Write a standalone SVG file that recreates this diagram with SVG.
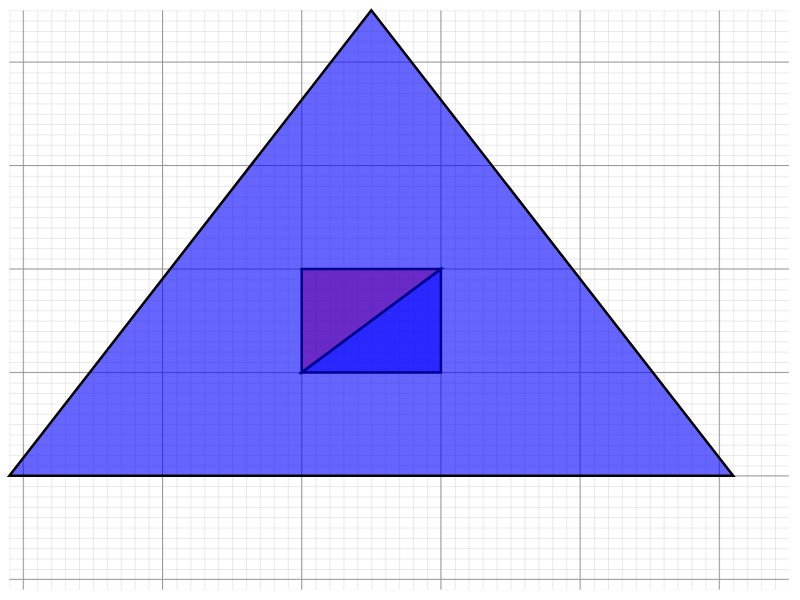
<svg xmlns="http://www.w3.org/2000/svg" width="800" height="600" viewBox="0 0 800 600">
<defs>
<pattern id="minor" x="23.3" y="10.3" width="13.92" height="10.345" patternUnits="userSpaceOnUse">
<path d="M0 0V10.345M0 0H13.92" fill="none" stroke="#d4d4d4" stroke-width="1"/>
</pattern>
</defs>
<style>
.major{stroke:#999;stroke-width:1;fill:none}
.tri{fill:rgb(0,0,255);fill-opacity:0.6;stroke:#000;stroke-width:2.5;stroke-linejoin:miter}
.half{fill-opacity:0.6;stroke:#000090;stroke-width:2.5}
</style>
<rect width="800" height="600" fill="#fff"/>
<g id="grid">
<rect x="9.4" y="10.3" width="779.5" height="579.3" fill="url(#minor)"/>
<path class="major" d="M23.3 10.3V589.6M162.5 10.3V589.6M301.7 10.3V589.6M440.9 10.3V589.6M580.1 10.3V589.6M719.3 10.3V589.6M9.4 579.3H788.9M9.4 475.85H788.9M9.4 372.4H788.9M9.4 268.95H788.9M9.4 165.5H788.9M9.4 62.05H788.9"/>
</g>
<g id="triangle">
<polygon class="tri" points="9.4,475.85 733.2,475.85 371.3,10.3"/>
</g>
<g id="rect-upper">
<polygon class="half" fill="rgb(109,2,160)" points="301.7,372.4 301.7,268.95 440.9,268.95"/>
</g>
<g id="rect-lower">
<polygon class="half" fill="rgb(0,0,255)" points="301.7,372.4 440.9,372.4 440.9,268.95"/>
</g>
</svg>
